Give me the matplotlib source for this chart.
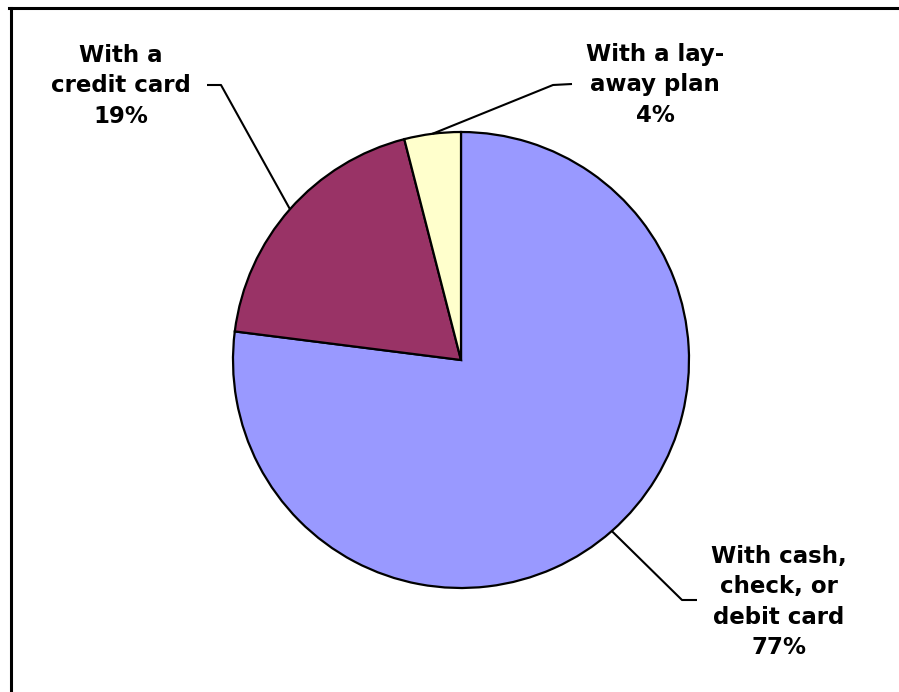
import numpy as np
import matplotlib.pyplot as plt
from matplotlib.lines import Line2D

labels = ["With cash,\ncheck, or\ndebit card", "With a\ncredit card", "With a lay-\naway plan"]
shares = [77, 19, 4]
colors = ["#9999FF", "#993366", "#FFFFCC"]

W, H = 899, 692
fig = plt.figure(figsize=(W / 100, H / 100), dpi=100)
ax = fig.add_axes([0, 0, 1, 1])

cx, cy, r = 461, H - 360, 228
wedges, _ = ax.pie(shares, colors=colors, startangle=90, counterclock=False,
                   center=(cx, cy), radius=r,
                   wedgeprops=dict(edgecolor="black", linewidth=1.6))
ax.set_xlim(0, W)
ax.set_ylim(0, H)
ax.set_aspect("equal")
ax.axis("off")

# label text position, elbow and line end (pixels from top-left)
layout = [
    dict(text=(779, 602), elbow=(682, 600), end=(697, 600)),
    dict(text=(121, 86), elbow=(221, 85), end=(207, 85)),
    dict(text=(655, 85), elbow=(553, 85), end=(572, 84)),
]

for w, lab, val, lo in zip(wedges, labels, shares, layout):
    mid = np.deg2rad((w.theta1 + w.theta2) / 2)
    x0, y0 = cx + r * np.cos(mid), cy + r * np.sin(mid)
    ex, ey = lo["elbow"]
    tx, ty = lo["end"]
    ax.plot([x0, ex, tx], [y0, H - ey, H - ty], color="black", lw=1.5,
            solid_capstyle="butt")
    ax.text(lo["text"][0], H - lo["text"][1], f"{lab}\n{val}%",
            ha="center", va="center", fontsize=16.5, fontweight="bold",
            linespacing=1.42, family="DejaVu Sans")

# chart border (top and left edges visible)
fig.add_artist(Line2D([10.5 / W, 10.5 / W], [0, 1 - 7.5 / H], color="black",
                      lw=2.2, transform=fig.transFigure))
fig.add_artist(Line2D([9 / W, 1], [1 - 7.5 / H, 1 - 7.5 / H], color="black",
                      lw=2.2, transform=fig.transFigure))

fig.savefig("out.png", dpi=100, facecolor="white")
